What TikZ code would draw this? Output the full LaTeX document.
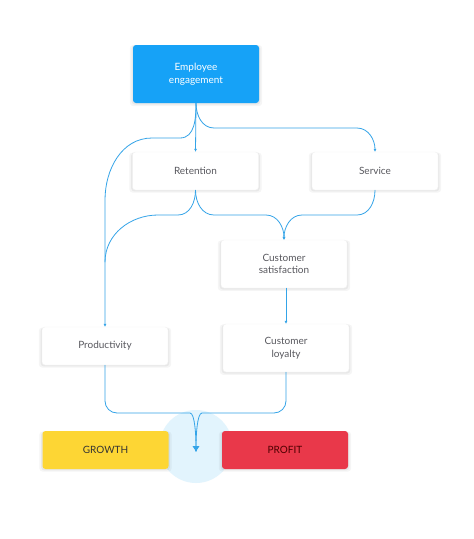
\documentclass[tikz,border=0pt]{standalone}
\usepackage{fontspec}
\setmainfont{Lato}
\usetikzlibrary{arrows.meta,shadows}
\definecolor{engblue}{RGB}{22,162,247}
\definecolor{linkblue}{RGB}{52,164,232}
\definecolor{growthyellow}{RGB}{253,214,52}
\definecolor{profitred}{RGB}{233,56,74}
\definecolor{haloblue}{RGB}{226,244,253}
\definecolor{labelgray}{RGB}{88,88,94}

\tikzset{
    card/.style={rectangle,rounded corners=3pt,fill=white,draw=black!5,line width=0.4pt,
        text=labelgray,align=center,
        minimum width=126pt,minimum height=38pt,inner sep=0pt,
        font=\fontsize{10}{12.5}\selectfont,
        general shadow={fill=black,opacity=0.04,shadow scale=1.05,shadow xshift=0pt,shadow yshift=-1.5pt},
        general shadow={fill=black,opacity=0.05,shadow scale=1.02,shadow xshift=0pt,shadow yshift=-1pt}},
    flatcard/.style={card,draw=none,general shadow={opacity=0}},
    link/.style={draw=linkblue,line width=0.8pt},
    tip/.style={-{Latex[length=3pt,width=3pt]}}
}

\begin{document}
\begin{tikzpicture}[x=1pt,y=-1pt,line cap=round,line join=round]
    \path[use as bounding box,fill=white] (0,0) rectangle (474,539);

    \fill[haloblue] (196,446.5) circle[radius=36.5pt];

    \node[flatcard,fill=engblue,text=white,minimum height=58pt] (engage) at (196,74) {Employee\\engagement};
    \node[card] (retain) at (195.5,171) {Retention};
    \node[card] (serve) at (375,171) {Service};
    \node[card,minimum height=48pt] (satisfy) at (284,264) {Customer\\satisfaction};
    \node[card] (produce) at (105,346) {Productivity};
    \node[card,minimum height=48pt] (loyal) at (286,348) {Customer\\loyalty};
    \node[flatcard,fill=growthyellow,text=black!80] (growth) at (105.5,450) {GROWTH};
    \node[flatcard,fill=profitred,text=black!70!red] (profit) at (285,450) {PROFIT};

    \coordinate (merge) at (196,452);

    \draw[link,tip] (engage.south) -- (retain.north);
    \draw[link,tip] (engage.south) to[out=-90,in=180] (214,128) -- (357,128) to[out=0,in=90] (serve.north);
    \draw[link,tip] (engage.south) to[out=-90,in=0] (180,138) -- (152,138) to[out=180,in=90] (105,200) -- (produce.north);

    \draw[link] (retain.south) to[out=-90,in=0] (178,215) -- (158,215) to[out=180,in=90] (105,262);
    \draw[link,tip] (retain.south) to[out=-90,in=180] (214,215) -- (266,215) to[out=0,in=90] (satisfy.north);
    \draw[link,tip] (serve.south) to[out=-90,in=0] (357,215) -- (302,215) to[out=180,in=90] (satisfy.north);

    \draw[link,tip] (satisfy.south -| loyal.north) -- (loyal.north);

    \draw[link,-{Latex[length=6pt,width=7pt]}] (produce.south) [rounded corners=12pt] -- (105,413) -- (178,413) [sharp corners] to[out=0,in=90] (merge);
    \draw[link,-{Latex[length=6pt,width=7pt]}] (loyal.south) [rounded corners=12pt] -- (286,413) -- (214,413) [sharp corners] to[out=180,in=90] (merge);
\end{tikzpicture}
\end{document}
